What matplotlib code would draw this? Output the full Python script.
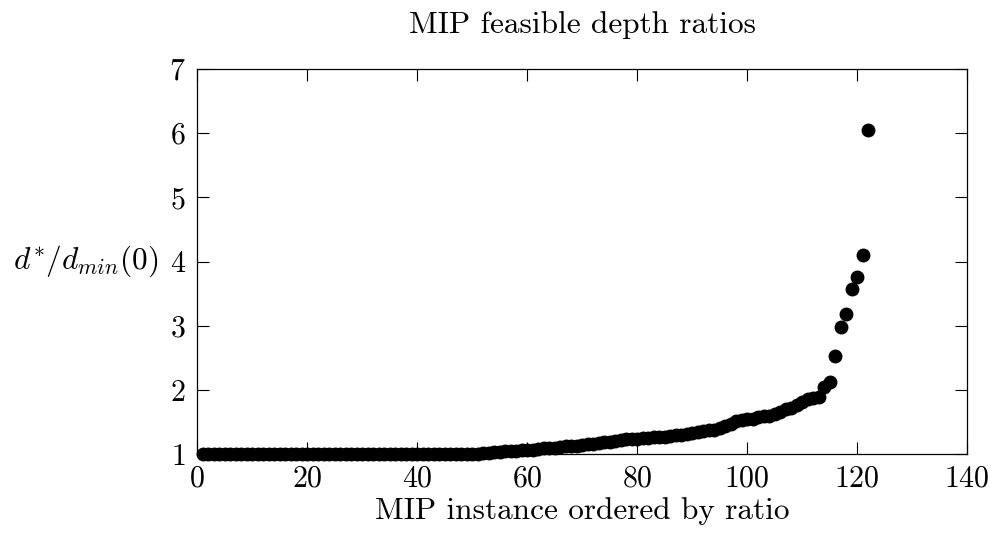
import matplotlib
matplotlib.use("Agg")
import matplotlib.pyplot as plt

plt.rcParams['font.family'] = ['cmr10', 'DejaVu Serif']
plt.rcParams['mathtext.fontset'] = 'cm'
plt.rcParams['axes.formatter.use_mathtext'] = True

# instance index (ordered by ratio)
instance = list(range(1, 123))
# ratios d*/d_min(0)
ratios = [1.00] * 51 + [
    1.02, 1.02, 1.03, 1.03, 1.04, 1.05, 1.05, 1.06, 1.07, 1.07,   # 52-61
    1.08, 1.09, 1.09, 1.10, 1.11, 1.12, 1.13, 1.13, 1.14, 1.15,   # 62-71
    1.16, 1.17, 1.18, 1.19, 1.20, 1.22, 1.23, 1.24, 1.24, 1.25,   # 72-81
    1.25, 1.26, 1.26, 1.27, 1.28, 1.29, 1.30, 1.31, 1.32, 1.34,   # 82-91
    1.36, 1.37, 1.38, 1.40, 1.43, 1.47, 1.52, 1.53, 1.54, 1.55,   # 92-101
    1.57, 1.59, 1.60, 1.62, 1.66, 1.70, 1.72, 1.76, 1.81, 1.85,   # 102-111
    1.87, 1.89, 2.04, 2.12, 2.53, 2.98, 3.19, 3.57, 3.76, 4.10,   # 112-121
    6.05,                                                          # 122
]

xticks = [0, 20, 40, 60, 80, 100, 120, 140]
yticks = [1, 2, 3, 4, 5, 6, 7]

fig = plt.figure(figsize=(9.98, 5.53), dpi=100)
ax = fig.add_axes([0.1974, 0.179, 0.7716, 0.696])

ax.plot(instance, ratios, linestyle='none', marker='o', markersize=9,
        color='black', clip_on=False, zorder=3)

ax.set_xlim(0, 140)
ax.set_ylim(1, 7)
ax.set_xticks(xticks)
ax.set_yticks(yticks)
ax.tick_params(direction='in', length=8.5, width=0.8, top=True, right=True,
               labelsize=21.5, pad=8, colors='black')
for s in ax.spines.values():
    s.set_linewidth(0.9)

ax.set_title('MIP feasible depth ratios', fontsize=22.5, pad=26)
ax.set_xlabel('MIP instance ordered by ratio', fontsize=22.5, labelpad=3)
ax.set_ylabel(r'$d^{\!*}\!/d_{min}(0)$', fontsize=22.5, rotation=0, ha='right',
              va='center')
ax.yaxis.set_label_coords(-0.05, 0.5)

fig.savefig('out.png', dpi=100)
